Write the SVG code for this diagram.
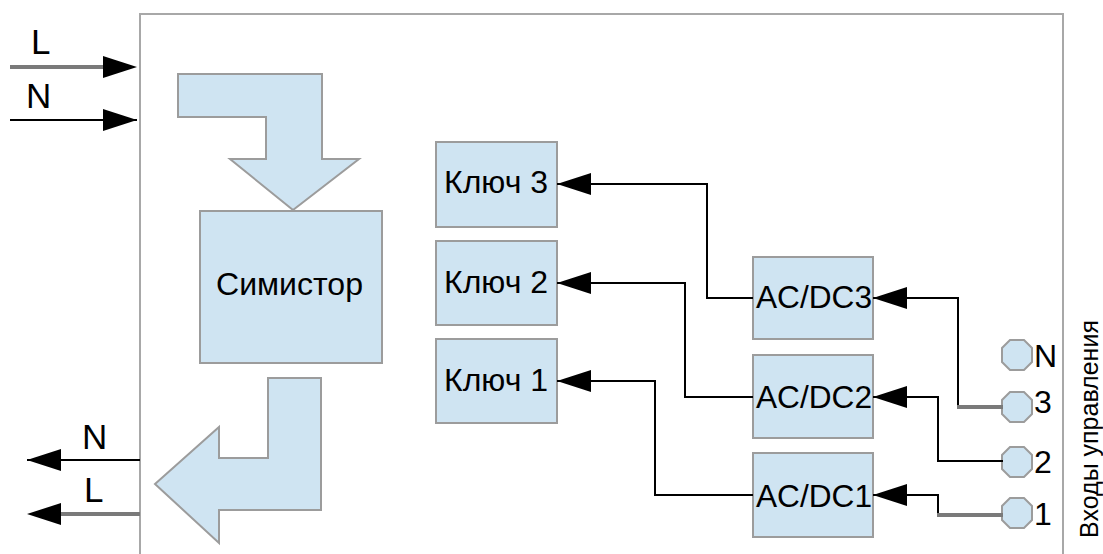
<svg xmlns="http://www.w3.org/2000/svg" width="1103" height="554" viewBox="0 0 1103 554">
<style>
.box{fill:#cfe4f2;stroke:#9c9c9c;stroke-width:2}
.t{font-family:"Liberation Sans",Arial,sans-serif;fill:#000}
.bl{font-size:32px}
.thin{fill:none;stroke:#000;stroke-width:2}
.thick{fill:none;stroke:#7a7a7a;stroke-width:4}
.ghost{fill:none;stroke:none}
.ah{fill:#000}
</style>
<defs>
<marker id="arr" markerUnits="userSpaceOnUse" markerWidth="36" markerHeight="24" refX="34" refY="12" orient="auto" viewBox="0 0 36 24">
<path d="M0,1 L34,12 L0,23 z" class="ah"/>
</marker>
</defs>
<rect x="140" y="14" width="923" height="570" fill="none" stroke="#a8a8a8" stroke-width="2"/>
<g id="inputs-LN">
<text class="t" x="31" y="54" font-size="35">L</text>
<text class="t" x="26" y="108" font-size="35">N</text>
</g>
<g id="outputs-NL">
<text class="t" x="82" y="449" font-size="35">N</text>
<text class="t" x="84" y="502" font-size="35">L</text>
</g>
<g id="arrow-in">
<polygon class="box" points="178,74 322,74 322,159 359,159 293,210 230,159 266,159 266,117 178,117"/>
</g>
<g id="arrow-out">
<polygon class="box" points="268,378 321,378 321,510 219,510 219,543 155,484 219,427 219,458 268,458"/>
</g>
<g id="simistor">
<rect class="box" x="200" y="211" width="182" height="152"/>
<text class="t bl" x="216" y="295" textLength="147" lengthAdjust="spacingAndGlyphs">Симистор</text>
</g>
<g id="key3">
<rect class="box" x="436" y="142" width="121" height="85"/>
<text class="t bl" x="444" y="193" textLength="104" lengthAdjust="spacingAndGlyphs">Ключ 3</text>
</g>
<g id="key2">
<rect class="box" x="436" y="241" width="121" height="84"/>
<text class="t bl" x="444" y="293" textLength="104" lengthAdjust="spacingAndGlyphs">Ключ 2</text>
</g>
<g id="key1">
<rect class="box" x="436" y="339" width="121" height="84"/>
<text class="t bl" x="444" y="391" textLength="104" lengthAdjust="spacingAndGlyphs">Ключ 1</text>
</g>
<g id="acdc3">
<rect class="box" x="753" y="257" width="120" height="82"/>
<text class="t bl" x="756" y="308" textLength="116" lengthAdjust="spacingAndGlyphs">AC/DC3</text>
</g>
<g id="acdc2">
<rect class="box" x="753" y="355" width="120" height="83"/>
<text class="t bl" x="756" y="408" textLength="116" lengthAdjust="spacingAndGlyphs">AC/DC2</text>
</g>
<g id="acdc1">
<rect class="box" x="753" y="453" width="120" height="84"/>
<text class="t bl" x="756" y="507" textLength="116" lengthAdjust="spacingAndGlyphs">AC/DC1</text>
</g>
<g id="terminals">
<polygon class="box" points="1010,340 1024,340 1032,348 1032,362 1024,370 1010,370 1002,362 1002,348"/>
<polygon class="box" points="1010,392 1024,392 1032,400 1032,414 1024,422 1010,422 1002,414 1002,400"/>
<polygon class="box" points="1010,447 1024,447 1032,455 1032,469 1024,477 1010,477 1002,469 1002,455"/>
<polygon class="box" points="1010,498 1024,498 1032,506 1032,520 1024,528 1010,528 1002,520 1002,506"/>
<text class="t" x="1034" y="367" font-size="32">N</text>
<text class="t" x="1034" y="413" font-size="32">3</text>
<text class="t" x="1034" y="473" font-size="32">2</text>
<text class="t" x="1034" y="525" font-size="32">1</text>
</g>
<g id="label-inputs">
<text class="t" font-size="25" text-anchor="middle" transform="translate(1098,429) rotate(-90)">Входы управления</text>
</g>
<g id="connectors">
<line class="thick" x1="10" y1="67" x2="108" y2="67"/>
<line class="ghost" x1="10" y1="67" x2="137" y2="67" marker-end="url(#arr)"/>
<line class="thin" x1="10" y1="120" x2="137" y2="120" marker-end="url(#arr)"/>
<line class="thin" x1="140" y1="460" x2="27" y2="460" marker-end="url(#arr)"/>
<line class="thick" x1="140" y1="514" x2="58" y2="514"/>
<line class="ghost" x1="140" y1="514" x2="27" y2="514" marker-end="url(#arr)"/>
<polyline class="thin" points="753,298 707,298 707,184 557,184" marker-end="url(#arr)"/>
<polyline class="thin" points="753,397 685,397 685,283 557,283" marker-end="url(#arr)"/>
<polyline class="thin" points="753,495 655,495 655,381 557,381" marker-end="url(#arr)"/>
<polyline class="thin" points="958,407 958,298 873,298" marker-end="url(#arr)"/>
<line class="thick" x1="957" y1="407" x2="1003" y2="407"/>
<polyline class="thin" points="1003,461 938,461 938,397 873,397" marker-end="url(#arr)"/>
<polyline class="thin" points="938,515 938,495 873,495" marker-end="url(#arr)"/>
<line class="thick" x1="937" y1="515" x2="1003" y2="515"/>
</g>
</svg>
